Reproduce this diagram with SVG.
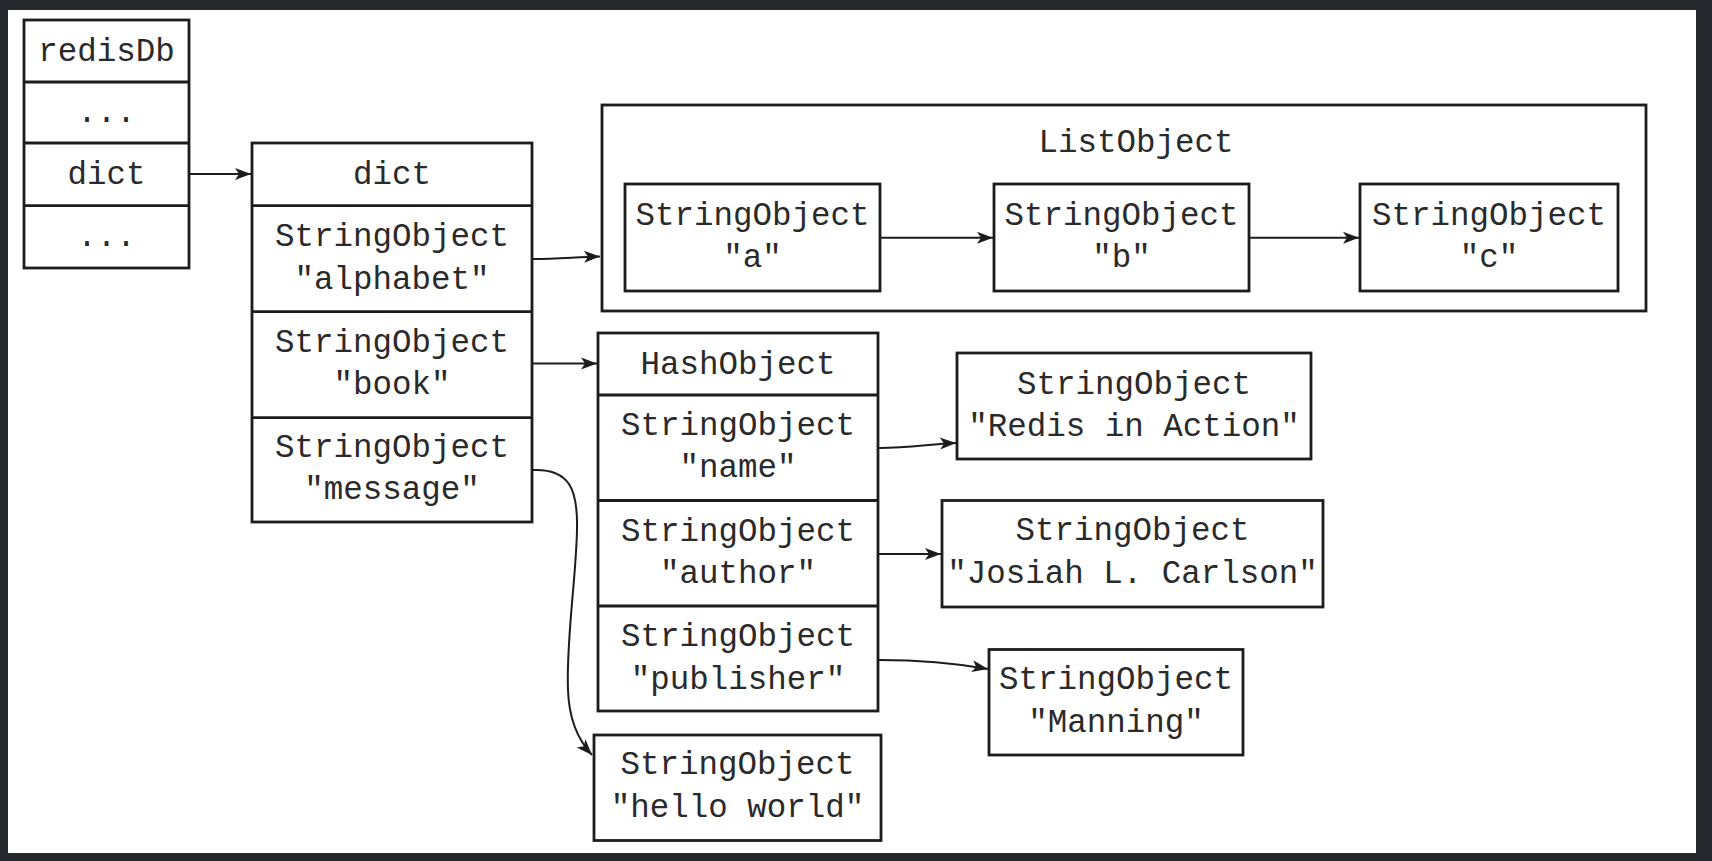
<svg xmlns="http://www.w3.org/2000/svg" width="1712" height="861" viewBox="0 0 1712 861">
<style>
.box{fill:none;stroke:#1c1c1c;stroke-width:2.8}
.sep{stroke:#1c1c1c;stroke-width:2.8}
.t{font-family:"Liberation Mono","Courier New",monospace;font-size:32.5px;fill:#2a2a2a;text-anchor:middle}
.c{fill:none;stroke:#1c1c1c;stroke-width:2}
</style>
<defs>
<marker id="ah" markerUnits="userSpaceOnUse" markerWidth="18" markerHeight="14" refX="17" refY="7" orient="auto">
<path d="M1,1 L17,7 L1,13 L5,7 Z" fill="#1c1c1c"/>
</marker>
</defs>
<rect x="0" y="0" width="1712" height="861" fill="#25282c"/>
<rect x="8" y="10" width="1688" height="843" fill="#ffffff"/>

<g id="redisDb">
<rect class="box" x="24" y="20" width="165" height="248"/>
<line class="sep" x1="24" y1="82" x2="189" y2="82"/>
<line class="sep" x1="24" y1="143" x2="189" y2="143"/>
<line class="sep" x1="24" y1="205.6" x2="189" y2="205.6"/>
<text class="t" x="106.5" y="61">redisDb</text>
<text class="t" x="106.5" y="122">...</text>
<text class="t" x="106.5" y="184">dict</text>
<text class="t" x="106.5" y="246">...</text>
</g>

<g id="dict">
<rect class="box" x="252" y="143" width="280" height="379"/>
<line class="sep" x1="252" y1="205.6" x2="532" y2="205.6"/>
<line class="sep" x1="252" y1="311.6" x2="532" y2="311.6"/>
<line class="sep" x1="252" y1="417.7" x2="532" y2="417.7"/>
<text class="t" x="392" y="184">dict</text>
<text class="t" x="392" y="246">StringObject</text>
<text class="t" x="392" y="288.5">"alphabet"</text>
<text class="t" x="392" y="352">StringObject</text>
<text class="t" x="392" y="394">"book"</text>
<text class="t" x="392" y="457">StringObject</text>
<text class="t" x="392" y="498.5">"message"</text>
</g>

<g id="listObject">
<rect class="box" x="602" y="105" width="1044" height="206"/>
<text class="t" x="1136" y="152">ListObject</text>
</g>
<g id="list-a">
<rect class="box" x="625" y="184" width="255" height="107"/>
<text class="t" x="752.5" y="225">StringObject</text>
<text class="t" x="752.5" y="267">"a"</text>
</g>
<g id="list-b">
<rect class="box" x="994" y="184" width="255" height="107"/>
<text class="t" x="1121.5" y="225">StringObject</text>
<text class="t" x="1121.5" y="267">"b"</text>
</g>
<g id="list-c">
<rect class="box" x="1360" y="184" width="258" height="107"/>
<text class="t" x="1489" y="225">StringObject</text>
<text class="t" x="1489" y="267">"c"</text>
</g>

<g id="hashObject">
<rect class="box" x="598" y="333" width="280" height="378"/>
<line class="sep" x1="598" y1="395" x2="878" y2="395"/>
<line class="sep" x1="598" y1="500.5" x2="878" y2="500.5"/>
<line class="sep" x1="598" y1="606" x2="878" y2="606"/>
<text class="t" x="738" y="373.5">HashObject</text>
<text class="t" x="738" y="435">StringObject</text>
<text class="t" x="738" y="477">"name"</text>
<text class="t" x="738" y="540.5">StringObject</text>
<text class="t" x="738" y="583">"author"</text>
<text class="t" x="738" y="646">StringObject</text>
<text class="t" x="738" y="688.5">"publisher"</text>
</g>

<g id="redisInAction">
<rect class="box" x="957" y="353" width="354" height="106"/>
<text class="t" x="1134" y="393.5">StringObject</text>
<text class="t" x="1134" y="435.5">"Redis in Action"</text>
</g>
<g id="josiah">
<rect class="box" x="942" y="500.5" width="381" height="106.5"/>
<text class="t" x="1132.5" y="540">StringObject</text>
<text class="t" x="1132.5" y="583">"Josiah L. Carlson"</text>
</g>
<g id="manning">
<rect class="box" x="989" y="649.5" width="254" height="105.5"/>
<text class="t" x="1116" y="689">StringObject</text>
<text class="t" x="1116" y="732">"Manning"</text>
</g>
<g id="helloWorld">
<rect class="box" x="594" y="735" width="287" height="105.5"/>
<text class="t" x="737.5" y="773.5">StringObject</text>
<text class="t" x="737.5" y="816.5">"hello world"</text>
</g>

<g id="connectors">
<line class="c" x1="189" y1="174" x2="251" y2="174" marker-end="url(#ah)"/>
<path class="c" d="M532,259 C560,259 575,257 600,256.5" marker-end="url(#ah)"/>
<line class="c" x1="532" y1="363.5" x2="597" y2="363.5" marker-end="url(#ah)"/>
<line class="c" x1="880" y1="237.7" x2="993" y2="237.7" marker-end="url(#ah)"/>
<line class="c" x1="1249" y1="237.7" x2="1359" y2="237.7" marker-end="url(#ah)"/>
<path class="c" d="M879,448 C910,448 930,444 956,443" marker-end="url(#ah)"/>
<line class="c" x1="878" y1="554" x2="941" y2="554" marker-end="url(#ah)"/>
<path class="c" d="M879,660 C930,660 960,664 988,669" marker-end="url(#ah)"/>
<path class="c" d="M532,470 C570,468 578,490 577,530 C576,580 566,640 568,690 C569,720 578,740 592,755" marker-end="url(#ah)"/>
</g>
</svg>
